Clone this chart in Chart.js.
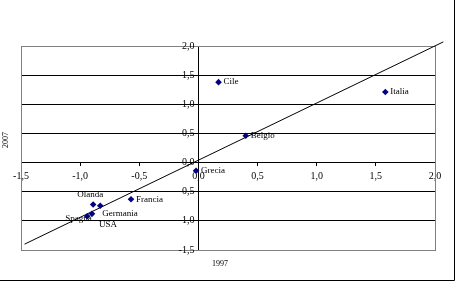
<!DOCTYPE html>
<html>
<head>
<meta charset="utf-8">
<script src="https://cdn.jsdelivr.net/npm/chart.js@4/dist/chart.umd.min.js"></script>
<style>
  html, body { margin: 0; padding: 0; background: #fff; }
  #wrap { position: relative; width: 456px; height: 281px; }
</style>
</head>
<body>
<div id="wrap"><canvas id="myChart" width="456" height="281"></canvas></div>
<script>
// countries and values (1997 on x, 2007 on y)
var countries = ['Cile', 'Italia', 'Belgio', 'Grecia', 'Francia', 'Olanda', 'Germania', 'USA', 'Spagna'];
var val1997 = [0.17, 1.58, 0.40, -0.02, -0.57, -0.89, -0.83, -0.90, -0.94];
var val2007 = [1.38, 1.21, 0.46, -0.14, -0.63, -0.72, -0.74, -0.88, -0.92];

// trend line end points
var lineX = [-1.47, 2.07];
var lineY = [-1.40, 2.07];

var axisMin = -1.5, axisMax = 2.0, axisStep = 0.5;

var fmt = function(v) {
    return v.toFixed(1).replace('.', ',');
};

var points = countries.map(function(c, i) {
    return { x: val1997[i], y: val2007[i] };
});
var linePts = lineX.map(function(x, i) {
    return { x: x, y: lineY[i] };
});

// where each label sits relative to its point
var labelPlace = {
    'Olanda': [-16, -10, 'left'],
    'Germania': [2, 8, 'left'],
    'Spagna': [-22, 2, 'left'],
    'USA': [7, 11, 'left']
};

var serif = '"Liberation Serif", "Times New Roman", serif';

var extras = {
    id: 'extras',
    beforeDatasetsDraw: function(chart) {
        var ctx = chart.ctx, a = chart.chartArea;
        ctx.save();
        ctx.strokeStyle = '#808080';
        ctx.lineWidth = 1;
        ctx.strokeRect(Math.round(a.left) + 0.5, Math.round(a.top) + 0.5,
            Math.round(a.right - a.left), Math.round(a.bottom - a.top));
        ctx.restore();
    },
    afterDraw: function(chart) {
        var ctx = chart.ctx;
        var meta = chart.getDatasetMeta(0);
        var xs = chart.scales.x, ys = chart.scales.y;
        ctx.save();
        ctx.fillStyle = '#000';

        // y tick labels, left of the y axis
        ctx.font = '10px ' + serif;
        ctx.textAlign = 'right';
        ctx.textBaseline = 'middle';
        var x0 = xs.getPixelForValue(0);
        ys.ticks.forEach(function(t) {
            ctx.fillText(fmt(t.value), x0 - 4, ys.getPixelForValue(t.value));
        });

        // point labels
        ctx.font = '9px ' + serif;
        meta.data.forEach(function(pt, i) {
            var p = labelPlace[countries[i]] || [5, 0, 'left'];
            ctx.textAlign = p[2];
            ctx.fillText(countries[i], pt.x + p[0], pt.y + p[1]);
        });

        // axis titles
        ctx.font = '8px ' + serif;
        ctx.textAlign = 'center';
        ctx.fillText('1997', 220, 264);
        ctx.translate(6, 140);
        ctx.rotate(-Math.PI / 2);
        ctx.fillText('2007', 0, 0);
        ctx.restore();

        // frame
        ctx.save();
        ctx.strokeStyle = '#000';
        ctx.lineWidth = 1;
        ctx.beginPath();
        ctx.moveTo(454.5, 0);
        ctx.lineTo(454.5, 280.5);
        ctx.lineTo(0, 280.5);
        ctx.stroke();
        ctx.restore();
    }
};

var config = {
    type: 'scatter',
    data: {
        datasets: [{
            label: 'Paesi',
            data: points,
            pointStyle: 'rectRot',
            pointRadius: 3.3,
            pointHoverRadius: 3.3,
            backgroundColor: '#000080',
            borderColor: '#000080',
            borderWidth: 0
        }, {
            type: 'line',
            label: 'Tendenza',
            data: linePts,
            borderColor: '#000',
            borderWidth: 1,
            pointRadius: 0,
            fill: false,
            clip: false
        }]
    },
    options: {
        responsive: false,
        animation: false,
        layout: { padding: { left: 21, right: 21, top: 46, bottom: 31 } },
        plugins: {
            legend: { display: false },
            tooltip: { enabled: false }
        },
        scales: {
            x: {
                type: 'linear',
                min: axisMin,
                max: axisMax,
                position: { y: 0 },
                afterFit: function(s) { s.height = 0; },
                border: { display: true, color: '#000', width: 1 },
                grid: { display: true, drawOnChartArea: false, tickLength: 3, color: '#000' },
                ticks: {
                    stepSize: axisStep,
                    padding: 5,
                    color: '#000',
                    font: { family: serif, size: 10 },
                    maxRotation: 0,
                    callback: fmt
                }
            },
            y: {
                type: 'linear',
                min: axisMin,
                max: axisMax,
                position: { x: 0 },
                afterFit: function(s) { s.width = 0; },
                border: { display: true, color: '#000', width: 1 },
                grid: {
                    color: function(c) {
                        var v = c.tick ? c.tick.value : 0;
                        return (v === axisMin || v === axisMax) ? 'rgba(0,0,0,0)' : '#000';
                    },
                    tickColor: '#000',
                    tickLength: 3
                },
                ticks: {
                    stepSize: axisStep,
                    display: false
                }
            }
        }
    },
    plugins: [extras]
};

window.onload = function() {
    var ctx = document.getElementById('myChart').getContext('2d');
    window.myChart = new Chart(ctx, config);
};
</script>
</body>
</html>
